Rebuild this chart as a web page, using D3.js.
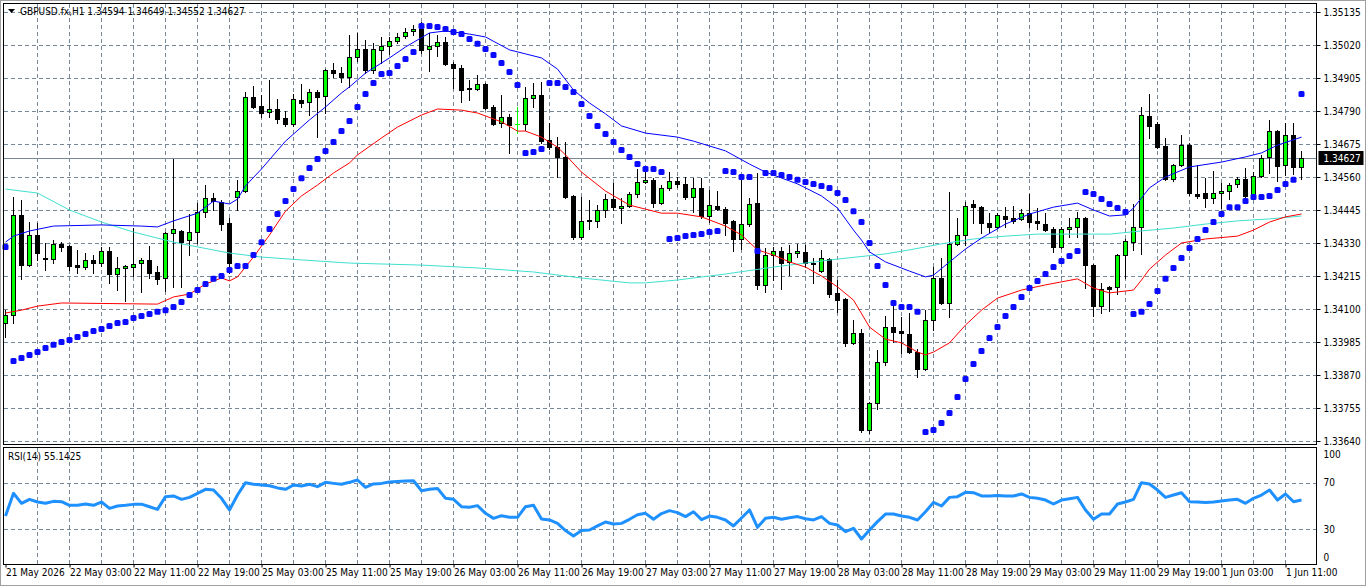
<!DOCTYPE html>
<html>
<head>
<meta charset="utf-8">
<script src="https://cdn.jsdelivr.net/npm/d3@7/dist/d3.min.js"></script>
<style>
html, body { margin: 0; padding: 0; background: #fff; }
svg { display: block; font-family: "DejaVu Sans Condensed", "Liberation Sans", Arial, sans-serif; font-size: 10px; }
</style>
</head>
<body>
<svg id="chart" width="1366" height="586"></svg>
<script>
// GBPUSD.fx H1, one value per bar (bar 0 = 21 May 19:00)
var opens = [
1.34051,1.34079,1.34428,1.34253,1.34358,1.34278,1.34274,1.34327,1.34320,1.34253,
1.34246,1.34271,1.34260,1.34302,1.34222,1.34243,1.34246,1.34260,1.34271,1.34229,
1.34208,1.34365,1.34372,1.34340,1.34368,1.34438,1.34487,1.34473,1.34400,1.34490,
1.34511,1.34839,1.34807,1.34787,1.34797,1.34766,1.34745,1.34828,1.34821,1.34856,
1.34842,1.34933,1.34922,1.34908,1.34978,1.35006,1.34933,1.35003,1.35016,1.35034,
1.35051,1.35069,1.35076,1.35006,1.35016,1.35030,1.34954,1.34940,1.34870,1.34867,
1.34884,1.34804,1.34748,1.34769,1.34745,1.34745,1.34835,1.34846,1.34689,1.34664,
1.34630,1.34494,1.34351,1.34410,1.34407,1.34445,1.34483,1.34452,1.34459,1.34501,
1.34543,1.34550,1.34469,1.34522,1.34546,1.34536,1.34490,1.34522,1.34424,1.34459,
1.34448,1.34407,1.34344,1.34396,1.34469,1.34184,1.34288,1.34302,1.34264,1.34295,
1.34299,1.34260,1.34232,1.34274,1.34156,1.34135,1.33982,1.34016,1.33678,1.33772,
1.33915,1.34037,1.34023,1.34013,1.33950,1.33891,1.34062,1.34208,1.34121,1.34327,
1.34358,1.34466,1.34455,1.34400,1.34386,1.34424,1.34417,1.34414,1.34434,1.34407,
1.34396,1.34379,1.34316,1.34379,1.34386,1.34417,1.34253,1.34110,1.34177,1.34177,
1.34288,1.34333,1.34386,1.34773,1.34745,1.34668,1.34553,1.34602,1.34671,1.34501,
1.34504,1.34487,1.34504,1.34511,1.34536,1.34553,1.34494,1.34563,1.34630,1.34720,
1.34602,1.34706,1.34594];
var highs = [
1.34096,1.34490,1.34480,1.34403,1.34400,1.34330,1.34340,1.34333,1.34323,1.34306,
1.34295,1.34288,1.34316,1.34316,1.34281,1.34253,1.34382,1.34278,1.34320,1.34250,
1.34368,1.34623,1.34375,1.34431,1.34469,1.34532,1.34504,1.34480,1.34417,1.34550,
1.34856,1.34877,1.34846,1.34898,1.34832,1.34790,1.34849,1.34884,1.34867,1.34863,
1.34936,1.34957,1.34943,1.35055,1.35062,1.35037,1.35027,1.35048,1.35048,1.35062,
1.35079,1.35090,1.35100,1.35062,1.35055,1.35048,1.34961,1.34950,1.34898,1.34915,
1.34888,1.34811,1.34846,1.34780,1.34804,1.34874,1.34888,1.34891,1.34748,1.34699,
1.34682,1.34497,1.34490,1.34480,1.34462,1.34501,1.34539,1.34487,1.34508,1.34588,
1.34584,1.34556,1.34532,1.34577,1.34560,1.34560,1.34556,1.34556,1.34515,1.34511,
1.34455,1.34410,1.34570,1.34487,1.34574,1.34313,1.34316,1.34316,1.34323,1.34327,
1.34323,1.34278,1.34306,1.34278,1.34201,1.34138,1.34062,1.34030,1.33776,1.33957,
1.34076,1.34114,1.34072,1.34086,1.33961,1.34096,1.34246,1.34278,1.34508,1.34417,
1.34473,1.34480,1.34459,1.34434,1.34434,1.34455,1.34459,1.34448,1.34501,1.34452,
1.34434,1.34386,1.34386,1.34417,1.34438,1.34421,1.34257,1.34191,1.34180,1.34292,
1.34344,1.34466,1.34804,1.34849,1.34752,1.34696,1.34605,1.34706,1.34678,1.34602,
1.34556,1.34581,1.34539,1.34539,1.34560,1.34591,1.34577,1.34637,1.34759,1.34724,
1.34748,1.34748,1.34649];
var lows = [
1.34002,1.34051,1.34205,1.34250,1.34271,1.34236,1.34260,1.34302,1.34236,1.34225,
1.34239,1.34225,1.34250,1.34191,1.34166,1.34128,1.34215,1.34159,1.34208,1.34187,
1.34163,1.34177,1.34177,1.34288,1.34330,1.34421,1.34445,1.34375,1.34225,1.34445,
1.34508,1.34800,1.34769,1.34769,1.34748,1.34738,1.34738,1.34804,1.34776,1.34699,
1.34783,1.34908,1.34891,1.34874,1.34964,1.34922,1.34922,1.34957,1.34989,1.35027,
1.35044,1.35055,1.34992,1.34929,1.34982,1.34950,1.34870,1.34821,1.34828,1.34863,
1.34797,1.34741,1.34734,1.34644,1.34713,1.34724,1.34804,1.34678,1.34658,1.34560,
1.34487,1.34344,1.34344,1.34379,1.34386,1.34421,1.34445,1.34400,1.34455,1.34490,
1.34539,1.34455,1.34466,1.34515,1.34525,1.34483,1.34438,1.34417,1.34403,1.34445,
1.34358,1.34302,1.34309,1.34389,1.34170,1.34159,1.34201,1.34170,1.34218,1.34281,
1.34246,1.34191,1.34229,1.34142,1.34090,1.33971,1.33978,1.33671,1.33668,1.33752,
1.33905,1.33985,1.33947,1.33947,1.33863,1.33887,1.34027,1.34117,1.34072,1.34323,
1.34323,1.34400,1.34365,1.34368,1.34382,1.34386,1.34400,1.34410,1.34386,1.34379,
1.34372,1.34299,1.34313,1.34351,1.34351,1.34173,1.34076,1.34086,1.34093,1.34152,
1.34208,1.34306,1.34292,1.34696,1.34661,1.34550,1.34546,1.34598,1.34497,1.34487,
1.34455,1.34469,1.34452,1.34483,1.34525,1.34487,1.34490,1.34560,1.34574,1.34546,
1.34567,1.34570,1.34552];
var closes = [
1.34079,1.34428,1.34253,1.34358,1.34295,1.34274,1.34327,1.34316,1.34250,1.34246,
1.34271,1.34260,1.34302,1.34222,1.34243,1.34250,1.34257,1.34271,1.34225,1.34205,
1.34365,1.34379,1.34333,1.34368,1.34438,1.34487,1.34476,1.34396,1.34260,1.34511,
1.34839,1.34804,1.34783,1.34797,1.34762,1.34745,1.34832,1.34818,1.34856,1.34839,
1.34933,1.34922,1.34908,1.34978,1.35006,1.34933,1.35006,1.35016,1.35034,1.35048,
1.35065,1.35076,1.35003,1.35016,1.35030,1.34954,1.34940,1.34863,1.34865,1.34884,
1.34800,1.34745,1.34769,1.34741,1.34745,1.34835,1.34846,1.34685,1.34664,1.34630,
1.34490,1.34351,1.34407,1.34407,1.34445,1.34483,1.34455,1.34459,1.34501,1.34543,
1.34550,1.34469,1.34522,1.34546,1.34536,1.34490,1.34522,1.34424,1.34462,1.34448,
1.34400,1.34344,1.34396,1.34466,1.34184,1.34288,1.34302,1.34260,1.34295,1.34302,
1.34260,1.34257,1.34278,1.34152,1.34131,1.33982,1.34016,1.33678,1.33772,1.33915,
1.34037,1.34020,1.34016,1.33950,1.33891,1.34062,1.34208,1.34121,1.34327,1.34358,
1.34459,1.34455,1.34400,1.34386,1.34428,1.34414,1.34407,1.34434,1.34403,1.34400,
1.34375,1.34316,1.34379,1.34386,1.34417,1.34253,1.34110,1.34170,1.34170,1.34288,
1.34337,1.34386,1.34776,1.34738,1.34664,1.34553,1.34602,1.34671,1.34504,1.34494,
1.34487,1.34504,1.34511,1.34532,1.34553,1.34494,1.34563,1.34626,1.34720,1.34598,
1.34706,1.34595,1.34627];

// parabolic SAR, one dot per bar
var sarValues = [
1.34316,1.33919,1.33929,1.33940,1.33950,1.33964,1.33975,1.33985,1.33992,1.34002,
1.34013,1.34023,1.34030,1.34041,1.34051,1.34055,1.34069,1.34076,1.34083,1.34090,
1.34096,1.34107,1.34124,1.34149,1.34166,1.34187,1.34205,1.34215,1.34236,1.34250,
1.34250,1.34288,1.34333,1.34379,1.34431,1.34476,1.34518,1.34556,1.34591,1.34623,
1.34651,1.34682,1.34720,1.34755,1.34804,1.34849,1.34888,1.34919,1.34922,1.34947,
1.34971,1.34996,1.35086,1.35086,1.35083,1.35076,1.35065,1.35058,1.35041,1.35024,
1.35006,1.34985,1.34957,1.34926,1.34881,1.34644,1.34647,1.34658,1.34888,1.34888,
1.34874,1.34856,1.34814,1.34773,1.34738,1.34710,1.34682,1.34654,1.34630,1.34605,
1.34588,1.34588,1.34577,1.34344,1.34347,1.34354,1.34358,1.34361,1.34368,1.34372,
1.34581,1.34577,1.34560,1.34560,1.34302,1.34574,1.34574,1.34567,1.34560,1.34550,
1.34543,1.34536,1.34529,1.34522,1.34504,1.34480,1.34441,1.34403,1.34330,1.34250,
1.34184,1.34121,1.34107,1.34107,1.34090,1.33671,1.33678,1.33703,1.33738,1.33793,
1.33856,1.33908,1.33954,1.33999,1.34037,1.34076,1.34107,1.34142,1.34173,1.34198,
1.34222,1.34246,1.34267,1.34285,1.34302,1.34508,1.34501,1.34483,1.34466,1.34452,
1.34438,1.34083,1.34090,1.34117,1.34163,1.34205,1.34243,1.34278,1.34313,1.34344,
1.34375,1.34403,1.34431,1.34455,1.34455,1.34476,1.34490,1.34490,1.34494,1.34515,
1.34536,1.34550,1.34849];

// RSI(14), one value per bar
var rsiValues = [
41.4,60.9,52.3,55.7,53.4,52.3,54.0,53.7,50.6,50.6,
51.7,50.6,53.4,48.0,50.0,50.6,51.4,51.6,49.4,47.1,
58.0,58.6,55.7,57.4,60.9,64.3,63.7,56.6,46.6,59.4,
70.0,68.6,68.0,67.4,65.5,64.3,68.0,67.1,68.6,66.6,
70.3,69.4,68.6,70.3,72.3,66.0,68.9,69.4,70.6,71.1,
71.4,71.7,63.1,64.3,65.1,56.6,55.7,49.4,48.9,50.3,
43.7,39.4,41.7,40.3,40.3,49.4,50.6,38.9,38.0,35.1,
28.9,24.3,28.9,29.4,32.9,36.3,34.6,35.1,38.6,42.5,
43.7,38.6,43.5,46.0,44.3,40.9,45.1,38.3,41.4,40.3,
38.0,32.9,39.7,46.6,31.7,39.4,40.3,38.6,40.0,40.9,
39.1,38.0,40.9,35.1,33.7,28.0,30.9,21.7,29.4,36.6,
43.1,43.1,41.4,40.3,38.0,45.1,53.1,50.0,57.4,58.0,
61.7,61.4,58.6,58.6,59.1,58.6,58.6,60.3,57.4,56.6,
55.1,51.7,55.1,56.3,57.4,46.6,38.6,43.1,43.1,51.7,
53.4,55.7,70.0,68.9,63.7,57.4,59.4,61.4,53.7,53.4,
52.9,53.4,54.3,55.1,55.7,52.3,56.6,59.4,63.7,55.1,
60.3,53.7,55.1425];

// moving averages as [bar, price]
var maBlue = [[0,1.34333],[1,1.34354],[3,1.34372],[6,1.34389],[12,1.34393],[17,1.34389],[19,1.34386],
  [21,1.34407],[24,1.34434],[26,1.34476],[28,1.34466],[29,1.34483],[30,1.34529],[32,1.34588],[35,1.34685],
  [38,1.34759],[40,1.34804],[42,1.34853],[43,1.34874],[45,1.34922],[48,1.34975],[50,1.35013],[53,1.35062],
  [55,1.35069],[58,1.35058],[60,1.35048],[63,1.35003],[65,1.34989],[67,1.34975],[69,1.34936],[71,1.34863],
  [73,1.34818],[75,1.34780],[77,1.34738],[80,1.34713],[84,1.34699],[86,1.34685],[90,1.34651],[93,1.34605],
  [95,1.34577],[99,1.34536],[102,1.34494],[104,1.34452],[106,1.34375],[107,1.34340],[108,1.34299],
  [110,1.34264],[113,1.34232],[115,1.34212],[116,1.34218],[118,1.34264],[120,1.34309],[122,1.34347],
  [125,1.34396],[128,1.34431],[131,1.34455],[134,1.34469],[136,1.34445],[138,1.34424],[140,1.34428],
  [141,1.34452],[142,1.34487],[143,1.34522],[145,1.34560],[148,1.34595],[152,1.34612],[155,1.34630],
  [157,1.34644],[159,1.34671],[162,1.34699]];
var maRed = [[0,1.34086],[2,1.34096],[4,1.34110],[7,1.34121],[19,1.34117],[21,1.34142],[23,1.34152],
  [25,1.34187],[27,1.34208],[28,1.34198],[29,1.34212],[31,1.34281],[33,1.34358],[35,1.34441],[37,1.34494],
  [39,1.34532],[41,1.34574],[43,1.34609],[44,1.34637],[47,1.34696],[49,1.34734],[52,1.34776],[54,1.34797],
  [57,1.34793],[59,1.34783],[62,1.34752],[64,1.34720],[65,1.34720],[67,1.34699],[69,1.34664],[70,1.34637],
  [72,1.34577],[75,1.34511],[78,1.34462],[80,1.34448],[82,1.34434],[84,1.34434],[87,1.34421],[90,1.34389],
  [92,1.34358],[94,1.34306],[96,1.34288],[98,1.34264],[100,1.34246],[102,1.34215],[104,1.34177],
  [106,1.34131],[108,1.34037],[110,1.33995],[112,1.33982],[114,1.33950],[115,1.33940],[116,1.33950],
  [118,1.33982],[120,1.34044],[122,1.34096],[124,1.34138],[127,1.34166],[130,1.34184],[134,1.34205],
  [136,1.34173],[138,1.34156],[141,1.34166],[142,1.34201],[143,1.34239],[145,1.34288],[147,1.34330],
  [150,1.34344],[154,1.34354],[156,1.34375],[158,1.34403],[160,1.34421],[162,1.34431]];
var maTeal = [[0,1.34518],[4,1.34504],[8,1.34445],[12,1.34403],[16,1.34368],[20,1.34340],[22,1.34327],
  [28,1.34295],[32,1.34281],[37,1.34271],[43,1.34260],[52,1.34253],[59,1.34243],[66,1.34229],[72,1.34208],
  [78,1.34191],[80,1.34191],[84,1.34201],[90,1.34222],[96,1.34246],[100,1.34260],[104,1.34274],
  [110,1.34292],[113,1.34306],[117,1.34327],[121,1.34344],[125,1.34354],[129,1.34361],[138,1.34361],
  [142,1.34372],[146,1.34382],[150,1.34396],[154,1.34407],[158,1.34414],[162,1.34424]];

var priceTicks = [1.35135,1.35020,1.34905,1.34790,1.34675,1.34560,1.34445,1.34330,1.34215,1.34100,1.33985,1.33870,1.33755,1.33640];
var rsiTicks = [100, 70, 30, 0];
var rsiLevels = [70, 30];
var gridBars = d3.range(4, 161, 4);
var timeTickBars = [0,8,16,24,32,40,48,56,64,72,80,88,96,104,112,120,128,136,144,152,160];
var timeLabels = ["21 May 2026","22 May 03:00","22 May 11:00","22 May 19:00","25 May 03:00","25 May 11:00",
  "25 May 19:00","26 May 03:00","26 May 11:00","26 May 19:00","27 May 03:00","27 May 11:00","27 May 19:00",
  "28 May 03:00","28 May 11:00","28 May 19:00","29 May 03:00","29 May 11:00","29 May 19:00","1 Jun 03:00","1 Jun 11:00"];

var panel = {left: 3.5, right: 1316.5, top: 3.5, bottom: 444.5};
var rsiPanel = {top: 447.5, bottom: 564.5};
var gridColor = '#778899';
var last = closes.length - 1;
var fmt5 = d3.format('.5f');

var x = d3.scaleLinear().domain([0, last]).range([5.5, 1301.5]);
var y = d3.scaleLinear().domain([1.33640, 1.35135]).range([441, 12]);
var yr = d3.scaleLinear().domain([0, 100]).range([564.3, 447.7]);

var svg = d3.select('#chart');

svg.append('rect').attr('x', 0.5).attr('y', 0.5).attr('width', 1365).attr('height', 585)
    .attr('fill', '#fff').attr('stroke', '#a0a0a0');

// grid
var grid = svg.append('g').attr('stroke', gridColor).attr('stroke-dasharray', '4,3')
    .attr('shape-rendering', 'crispEdges');
priceTicks.forEach(function (p) {
    var yy = Math.round(y(p)) + 0.5;
    grid.append('line').attr('x1', panel.left).attr('x2', panel.right).attr('y1', yy).attr('y2', yy);
});
rsiLevels.forEach(function (v) {
    var yy = Math.round(yr(v)) + 0.5;
    grid.append('line').attr('x1', panel.left).attr('x2', panel.right).attr('y1', yy).attr('y2', yy);
});
gridBars.forEach(function (b) {
    grid.append('line').attr('x1', x(b)).attr('x2', x(b)).attr('y1', panel.top).attr('y2', panel.bottom);
    grid.append('line').attr('x1', x(b)).attr('x2', x(b)).attr('y1', rsiPanel.top).attr('y2', rsiPanel.bottom);
});

// last price line
var yLast = Math.round(y(closes[last])) + 0.5;
svg.append('line').attr('x1', panel.left).attr('x2', panel.right).attr('y1', yLast).attr('y2', yLast)
    .attr('stroke', gridColor).attr('shape-rendering', 'crispEdges');

// candles
var candles = svg.append('g').attr('shape-rendering', 'crispEdges');
closes.forEach(function (c, i) {
    var o = opens[i], cx = x(i);
    var doji = (o === c);
    var col = doji ? '#00ff00' : '#000';
    candles.append('line').attr('x1', cx).attr('x2', cx)
        .attr('y1', Math.round(y(highs[i]))).attr('y2', Math.round(y(lows[i])) + 1)
        .attr('stroke', col);
    var top = Math.round(y(Math.max(o, c))), bot = Math.round(y(Math.min(o, c)));
    if (bot - top < 1) {
        candles.append('line').attr('x1', cx - 2.5).attr('x2', cx + 2.5)
            .attr('y1', top + 0.5).attr('y2', top + 0.5).attr('stroke', col);
    } else {
        candles.append('rect').attr('x', cx - 2).attr('y', top + 0.5).attr('width', 4).attr('height', bot - top)
            .attr('fill', c > o ? '#00ff00' : '#000').attr('stroke', '#000');
    }
});

// moving averages
var maLine = d3.line().x(function (d) { return x(d[0]); }).y(function (d) { return y(d[1]); });
[[maTeal, '#40e0d0'], [maRed, '#ff0000'], [maBlue, '#0000ff']].forEach(function (m) {
    svg.append('path').attr('d', maLine(m[0])).attr('fill', 'none').attr('stroke', m[1]).attr('stroke-width', 1);
});

// parabolic SAR
svg.append('g').selectAll('rect').data(sarValues).enter().append('rect')
    .attr('x', function (d, i) { return x(i) - 3; })
    .attr('y', function (d) { return y(d) - 3; })
    .attr('width', 6).attr('height', 6).attr('rx', 1.5)
    .attr('fill', '#0a0aff');

// RSI
var rsiLine = d3.line().x(function (d, i) { return x(i); }).y(function (d) { return yr(d); });
svg.append('path').attr('d', rsiLine(rsiValues)).attr('fill', 'none')
    .attr('stroke', '#1e90ff').attr('stroke-width', 3).attr('stroke-linejoin', 'round');

// panel borders
svg.append('rect').attr('x', panel.left).attr('y', panel.top)
    .attr('width', panel.right - panel.left).attr('height', panel.bottom - panel.top)
    .attr('fill', 'none').attr('stroke', '#000').attr('shape-rendering', 'crispEdges');
svg.append('rect').attr('x', panel.left).attr('y', rsiPanel.top)
    .attr('width', panel.right - panel.left).attr('height', rsiPanel.bottom - rsiPanel.top)
    .attr('fill', 'none').attr('stroke', '#000').attr('shape-rendering', 'crispEdges');

// axes
function styleAxis(g) {
    g.select('.domain').remove();
    g.selectAll('line').attr('stroke', '#000');
    g.selectAll('text').attr('fill', '#000').style('font-size', '10px')
        .style('font-family', '"DejaVu Sans Condensed", "Liberation Sans", Arial, sans-serif');
}
svg.append('g').attr('transform', 'translate(' + panel.right + ',0)')
    .call(d3.axisRight(y).tickValues(priceTicks).tickFormat(fmt5).tickSize(4).tickPadding(3))
    .call(styleAxis);

var rsiAxis = svg.append('g').attr('transform', 'translate(' + panel.right + ',0)')
    .call(d3.axisRight(yr).tickValues(rsiTicks).tickFormat(d3.format('d')).tickSize(0).tickPadding(7))
    .call(styleAxis);
rsiAxis.selectAll('text').attr('dy', function (d) { return d === 100 ? '0.95em' : (d === 0 ? '-0.35em' : '0.32em'); });

svg.append('g').attr('transform', 'translate(0,' + rsiPanel.bottom + ')')
    .call(d3.axisBottom(x).tickValues(timeTickBars).tickFormat(function (d, i) { return timeLabels[i]; })
        .tickSize(3).tickPadding(1))
    .call(styleAxis)
    .selectAll('text').attr('text-anchor', 'start');

// last price label
svg.append('rect').attr('x', panel.right + 2).attr('y', yLast - 7.5).attr('width', 45).attr('height', 14)
    .attr('fill', '#000');
svg.append('text').attr('x', panel.right + 7).attr('y', yLast + 3.5).attr('fill', '#fff')
    .text(fmt5(closes[last]));

// headers
svg.append('path').attr('d', 'M8,9 L15,9 L11.5,13 Z').attr('fill', '#000');
svg.append('text').attr('x', 20).attr('y', 15).attr('fill', '#000')
    .text('GBPUSD.fx,H1  ' + [opens[last], highs[last], lows[last], closes[last]].map(fmt5).join(' '));
svg.append('text').attr('x', 8).attr('y', 460).attr('fill', '#000')
    .text('RSI(14) ' + d3.format('.4f')(rsiValues[last]));
</script>
</body>
</html>
